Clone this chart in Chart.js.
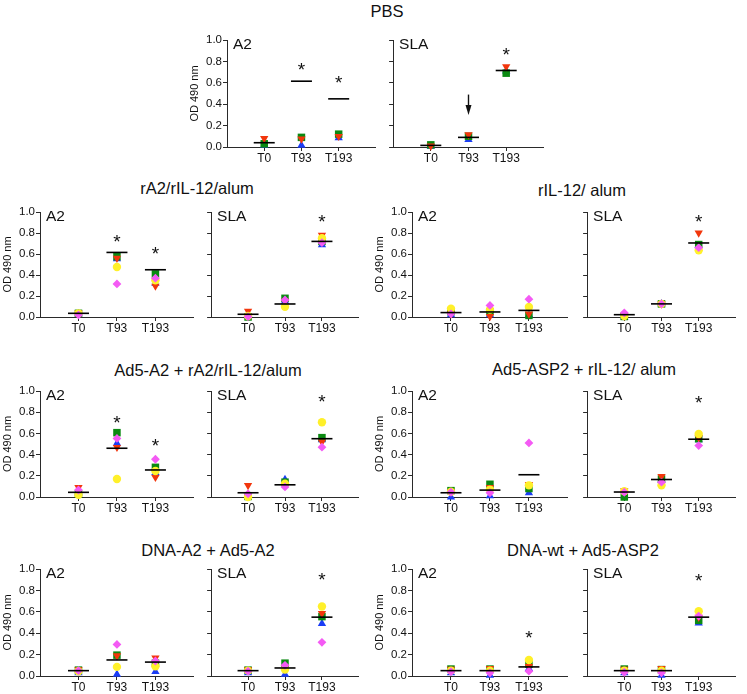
<!DOCTYPE html>
<html lang="en">
<head>
<meta charset="UTF-8">
<title>OD 490 nm</title>
<script src="https://cdn.jsdelivr.net/npm/chart.js"></script>
<style>
  body { margin: 0; background: #fff; }
  #fig { position: relative; width: 747px; height: 694px; font-family: "Liberation Sans", Arial, sans-serif; }
  #fig canvas { position: absolute; }
  .grp { position: absolute; font-size: 16.5px; line-height: 1; color: #111; white-space: nowrap; transform: translateX(-50%); }
</style>
</head>
<body>
<div id="fig"></div>
<script>
// time points on the x axis
const timepoints = ['T0', 'T93', 'T193'];
// rows = mice (red, green, blue, yellow, magenta), columns = T0, T93, T193
const pbsA2 = [[0.08, 0.075, 0.10], [0.03, 0.09, 0.12], [0.015, 0.015, 0.085], [null, null, null], [null, null, null]];
const pbsA2Mean = [0.04, 0.615, 0.45];
const pbsA2Star = [null, 0.755, 0.63];
const pbsSLA = [[0.01, 0.115, 0.75], [0.02, 0.10, 0.69], [0.005, 0.07, 0.71], [null, null, null], [null, null, null]];
const pbsSLAMean = [0.015, 0.09, 0.715];
const pbsSLAStar = [null, null, 0.89];
const pbsSLAArrow = [null, [0.49, 0.30], null];   // arrow from / to, at T93

const ra2A2 = [[0.04, 0.56, 0.295], [0.035, 0.575, 0.41], [0.03, 0.555, 0.32], [0.035, 0.476, 0.35], [0.02, 0.315, 0.37]];
const ra2A2Mean = [0.035, 0.615, 0.45];
const ra2A2Star = [null, 0.75, 0.635];
const ra2SLA = [[0.055, 0.15, 0.78], [0.0, 0.178, 0.72], [0.01, 0.15, 0.686], [0.01, 0.098, 0.75], [0.003, 0.162, 0.708]];
const ra2SLAMean = [0.026, 0.124, 0.72];
const ra2SLAStar = [null, null, 0.94];

const ril12A2 = [[0.03, 0.005, 0.03], [0.05, 0.05, 0.015], [0.02, 0.02, 0.02], [0.08, 0.07, 0.095], [0.03, 0.11, 0.17]];
const ril12A2Mean = [0.042, 0.048, 0.063];
const ril12A2Star = [null, null, null];
const ril12SLA = [[0.01, 0.125, 0.80], [0.005, 0.125, 0.69], [0.0, 0.125, 0.68], [0.01, 0.125, 0.635], [0.04, 0.125, 0.66]];
const ril12SLAMean = [0.022, 0.125, 0.705];
const ril12SLAStar = [null, null, 0.937];

const ad5A2A2 = [[0.09, 0.469, 0.186], [0.03, 0.607, 0.28], [0.04, 0.507, 0.23], [0.02, 0.17, 0.245], [0.066, 0.553, 0.356]];
const ad5A2A2Mean = [0.044, 0.46, 0.255];
const ad5A2A2Star = [null, 0.733, 0.512];
const ad5A2SLA = [[0.11, 0.12, 0.52], [0.005, 0.14, 0.56], [0.01, 0.165, 0.54], [0.0, 0.125, 0.705], [0.03, 0.095, 0.47]];
const ad5A2SLAMean = [0.04, 0.115, 0.55];
const ad5A2SLAStar = [null, null, 0.93];

const asp2A2 = [[0.05, 0.09, 0.12], [0.06, 0.12, 0.08], [0.0, 0.01, 0.04], [0.05, 0.07, 0.11], [0.045, 0.04, 0.51]];
const asp2A2Mean = [0.04, 0.065, 0.21];
const asp2A2Star = [null, null, null];
const asp2SLA = [[0.06, 0.195, 0.56], [0.0, 0.17, 0.55], [0.01, 0.16, 0.54], [0.055, 0.11, 0.595], [0.045, 0.14, 0.485]];
const asp2SLAMean = [0.047, 0.165, 0.545];
const asp2SLAStar = [null, null, 0.92];

const dnaA2A2 = [[0.06, 0.19, 0.17], [0.055, 0.195, 0.12], [0.03, 0.015, 0.04], [0.045, 0.085, 0.09], [0.05, 0.295, 0.14]];
const dnaA2A2Mean = [0.05, 0.15, 0.13];
const dnaA2A2Star = [null, null, null];
const dnaA2SLA = [[0.06, 0.08, 0.585], [0.055, 0.12, 0.555], [0.03, 0.015, 0.49], [0.05, 0.06, 0.65], [0.045, 0.1, 0.315]];
const dnaA2SLAMean = [0.05, 0.075, 0.55];
const dnaA2SLAStar = [null, null, 0.93];

const dnaWtA2 = [[0.065, 0.07, 0.09], [0.065, 0.065, 0.11], [0.03, 0.005, 0.07], [0.05, 0.05, 0.15], [0.04, 0.03, 0.045]];
const dnaWtA2Mean = [0.05, 0.05, 0.085];
const dnaWtA2Star = [null, null, 0.385];
const dnaWtSLA = [[0.065, 0.07, 0.55], [0.065, 0.06, 0.52], [0.03, 0.005, 0.495], [0.05, 0.05, 0.605], [0.035, 0.03, 0.56]];
const dnaWtSLAMean = [0.05, 0.05, 0.55];
const dnaWtSLAStar = [null, null, 0.925];

// marker styles per mouse (same row order as above)
const markers = [
  { color: '#f2360c', style: 'triangle', rot: 180, r: 4.8, order: 3 },
  { color: '#0b8a12', style: 'rect', rot: 0, r: 5.3, order: 4 },
  { color: '#1a3cf5', style: 'triangle', rot: 0, r: 4.8, order: 5 },
  { color: '#fff02a', style: 'circle', rot: 0, r: 4.2, order: 2 },
  { color: '#f45af4', style: 'rectRot', rot: 0, r: 4.4, order: 1 }
];

const FONT = '"Liberation Sans", Arial, sans-serif';
const INK = '#111';
const AXIS = '#2a2a2a';
const PT = 16, PR = 6, XH = 22;

const fig = document.getElementById('fig');

function addTitle(text, cx, cy) {
  const d = document.createElement('div');
  d.className = 'grp';
  d.textContent = text;
  d.style.left = cx + 'px';
  d.style.top = (cy - 8) + 'px';
  fig.appendChild(d);
}

function panel(p) {
  const yw = p.name === 'A2' ? 40 : 8;
  const cv = document.createElement('canvas');
  const W = yw + p.w + PR, H = PT + p.h + XH;
  cv.width = W; cv.height = H;
  cv.style.left = (p.ax - yw) + 'px';
  cv.style.top = (p.top - PT) + 'px';
  cv.style.width = W + 'px'; cv.style.height = H + 'px';
  fig.appendChild(cv);

  const datasets = [{
    label: 'mean',
    data: p.mean.map((v, i) => ({ x: i + 1, y: v })),
    pointStyle: 'line', pointRadius: 10.5, borderColor: '#000', borderWidth: 1.6,
    showLine: false, order: 0, clip: false
  }];
  p.rows.forEach((row, m) => {
    const mk = markers[m];
    datasets.push({
      label: 'mouse ' + (m + 1),
      data: row.map((v, i) => ({ x: i + 1, y: v })).filter(d => d.y !== null),
      pointStyle: mk.style, rotation: mk.rot, pointRadius: mk.r,
      backgroundColor: mk.color, borderColor: mk.color, borderWidth: 0,
      showLine: false, order: mk.order, clip: false
    });
  });

  const deco = {
    id: 'deco',
    afterDatasetsDraw(chart) {
      const { ctx, chartArea, scales: { x, y } } = chart;
      ctx.save();
      ctx.fillStyle = INK;
      ctx.font = '15.5px ' + FONT;
      ctx.textBaseline = 'alphabetic';
      ctx.textAlign = 'left';
      ctx.fillText(p.name, chartArea.left + 6, chartArea.top + 9);
      ctx.font = '19px ' + FONT;
      ctx.textAlign = 'center';
      const m = ctx.measureText('*');
      const off = (m.actualBoundingBoxAscent - m.actualBoundingBoxDescent) / 2;
      p.stars.forEach((s, i) => {
        if (s === null) return;
        ctx.fillText('*', x.getPixelForValue(i + 1), y.getPixelForValue(s) + off);
      });
      if (p.arrow) {
        p.arrow.forEach((a, i) => {
          if (!a) return;
          const px = x.getPixelForValue(i + 1);
          const y0 = y.getPixelForValue(a[0]), y1 = y.getPixelForValue(a[1]);
          ctx.strokeStyle = INK; ctx.lineWidth = 1.4;
          ctx.beginPath(); ctx.moveTo(px, y0); ctx.lineTo(px, y1 - 8); ctx.stroke();
          ctx.beginPath(); ctx.moveTo(px - 3, y1 - 10); ctx.lineTo(px + 3, y1 - 10); ctx.lineTo(px, y1); ctx.closePath(); ctx.fill();
        });
      }
      ctx.restore();
    }
  };

  new Chart(cv, {
    type: 'scatter',
    data: { datasets },
    options: {
      responsive: false, animation: false, events: [],
      layout: { padding: { top: PT, right: PR, left: 0, bottom: 0 } },
      plugins: { legend: { display: false }, tooltip: { enabled: false } },
      scales: {
        x: {
          type: 'linear', min: 0, max: 4,
          afterBuildTicks: s => { s.ticks = [1, 2, 3].map(v => ({ value: v })); },
          afterFit: s => { s.height = XH; },
          ticks: { callback: (v, i) => timepoints[i], color: INK, padding: 0, maxRotation: 0, autoSkip: false, font: { family: FONT, size: 12 } },
          grid: { display: true, drawOnChartArea: false, drawTicks: true, tickLength: 4, color: AXIS, tickColor: AXIS },
          border: { display: true, color: AXIS, width: 1 }
        },
        y: {
          min: 0, max: 1,
          afterFit: s => { s.width = yw; },
          ticks: { stepSize: 0.2, display: p.name === 'A2', callback: v => v.toFixed(1), color: INK, padding: 1, font: { family: FONT, size: 11.5 } },
          grid: { display: true, drawOnChartArea: false, drawTicks: true, tickLength: 4, color: AXIS, tickColor: AXIS },
          border: { display: true, color: AXIS, width: 1 },
          title: { display: p.name === 'A2', text: 'OD 490 nm', color: INK, padding: { top: 1, bottom: 0 }, font: { family: FONT, size: 11 } }
        }
      }
    },
    plugins: [deco]
  });
}

const groups = [
  { title: 'PBS', tx: 387, ty: 10.5, top: 40, h: 107, panels: [
    { name: 'A2', ax: 227, w: 155, rows: pbsA2, mean: pbsA2Mean, stars: pbsA2Star },
    { name: 'SLA', ax: 389, w: 161, rows: pbsSLA, mean: pbsSLAMean, stars: pbsSLAStar, arrow: pbsSLAArrow } ] },
  { title: 'rA2/rIL-12/alum', tx: 197, ty: 188, top: 212, h: 105, panels: [
    { name: 'A2', ax: 40, w: 160, rows: ra2A2, mean: ra2A2Mean, stars: ra2A2Star },
    { name: 'SLA', ax: 207, w: 158, rows: ra2SLA, mean: ra2SLAMean, stars: ra2SLAStar } ] },
  { title: 'rIL-12/ alum', tx: 582, ty: 190, top: 212, h: 105, panels: [
    { name: 'A2', ax: 412, w: 162, rows: ril12A2, mean: ril12A2Mean, stars: ril12A2Star },
    { name: 'SLA', ax: 583, w: 159, rows: ril12SLA, mean: ril12SLAMean, stars: ril12SLAStar } ] },
  { title: 'Ad5-A2 + rA2/rIL-12/alum', tx: 208, ty: 370, top: 391, h: 106, panels: [
    { name: 'A2', ax: 40, w: 160, rows: ad5A2A2, mean: ad5A2A2Mean, stars: ad5A2A2Star },
    { name: 'SLA', ax: 207, w: 158, rows: ad5A2SLA, mean: ad5A2SLAMean, stars: ad5A2SLAStar } ] },
  { title: 'Ad5-ASP2 + rIL-12/ alum', tx: 584, ty: 369, top: 391, h: 106, panels: [
    { name: 'A2', ax: 412, w: 162, rows: asp2A2, mean: asp2A2Mean, stars: asp2A2Star },
    { name: 'SLA', ax: 583, w: 159, rows: asp2SLA, mean: asp2SLAMean, stars: asp2SLAStar } ] },
  { title: 'DNA-A2 + Ad5-A2', tx: 208, ty: 550, top: 569, h: 107, panels: [
    { name: 'A2', ax: 40, w: 160, rows: dnaA2A2, mean: dnaA2A2Mean, stars: dnaA2A2Star },
    { name: 'SLA', ax: 207, w: 158, rows: dnaA2SLA, mean: dnaA2SLAMean, stars: dnaA2SLAStar } ] },
  { title: 'DNA-wt + Ad5-ASP2', tx: 583, ty: 550, top: 569, h: 107, panels: [
    { name: 'A2', ax: 412, w: 162, rows: dnaWtA2, mean: dnaWtA2Mean, stars: dnaWtA2Star },
    { name: 'SLA', ax: 583, w: 159, rows: dnaWtSLA, mean: dnaWtSLAMean, stars: dnaWtSLAStar } ] }
];

groups.forEach(g => {
  addTitle(g.title, g.tx, g.ty);
  g.panels.forEach(p => panel(Object.assign({ top: g.top, h: g.h }, p)));
});
</script>
</body>
</html>
